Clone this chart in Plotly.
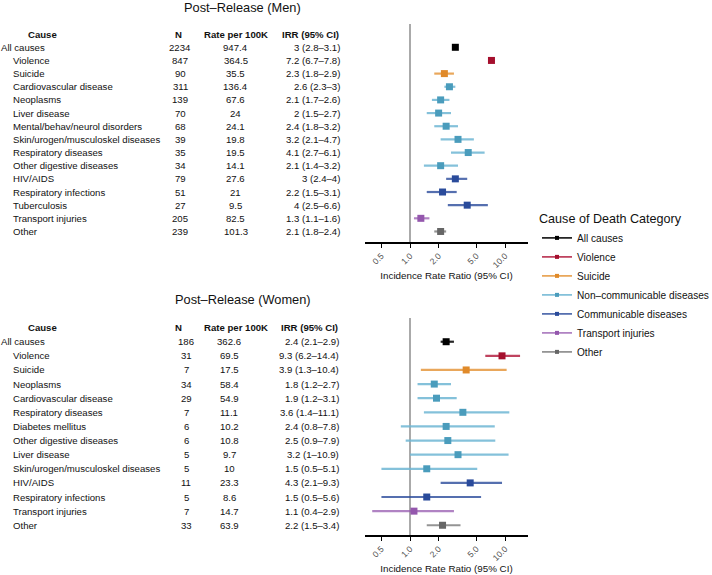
import plotly.graph_objects as go

# ---------------- data ----------------
men_causes = ["All causes", "Violence", "Suicide", "Cardiovascular disease", "Neoplasms",
              "Liver disease", "Mental/behav/neurol disorders", "Skin/urogen/musculoskel diseases",
              "Respiratory diseases", "Other digestive diseases", "HIV/AIDS",
              "Respiratory infections", "Tuberculosis", "Transport injuries", "Other"]
men_n = [2234, 847, 90, 311, 139, 70, 68, 39, 35, 34, 79, 51, 27, 205, 239]
men_rate = [947.4, 364.5, 35.5, 136.4, 67.6, 24, 24.1, 19.8, 19.5, 14.1, 27.6, 21, 9.5, 82.5, 101.3]
men_irr = [3, 7.2, 2.3, 2.6, 2.1, 2, 2.4, 3.2, 4.1, 2.1, 3, 2.2, 4, 1.3, 2.1]
men_lo = [2.8, 6.7, 1.8, 2.3, 1.7, 1.5, 1.8, 2.1, 2.7, 1.4, 2.4, 1.5, 2.5, 1.1, 1.8]
men_hi = [3.1, 7.8, 2.9, 3, 2.6, 2.7, 3.2, 4.7, 6.1, 3.2, 4, 3.1, 6.6, 1.6, 2.4]
men_cat = ["All causes", "Violence", "Suicide", "Non–communicable diseases", "Non–communicable diseases",
           "Non–communicable diseases", "Non–communicable diseases", "Non–communicable diseases",
           "Non–communicable diseases", "Non–communicable diseases", "Communicable diseases",
           "Communicable diseases", "Communicable diseases", "Transport injuries", "Other"]

women_causes = ["All causes", "Violence", "Suicide", "Neoplasms", "Cardiovascular disease",
                "Respiratory diseases", "Diabetes mellitus", "Other digestive diseases",
                "Liver disease", "Skin/urogen/musculoskel diseases", "HIV/AIDS",
                "Respiratory infections", "Transport injuries", "Other"]
women_n = [186, 31, 7, 34, 29, 7, 6, 6, 5, 5, 11, 5, 7, 33]
women_rate = [362.6, 69.5, 17.5, 58.4, 54.9, 11.1, 10.2, 10.8, 9.7, 10, 23.3, 8.6, 14.7, 63.9]
women_irr = [2.4, 9.3, 3.9, 1.8, 1.9, 3.6, 2.4, 2.5, 3.2, 1.5, 4.3, 1.5, 1.1, 2.2]
women_lo = [2.1, 6.2, 1.3, 1.2, 1.2, 1.4, 0.8, 0.9, 1, 0.5, 2.1, 0.5, 0.4, 1.5]
women_hi = [2.9, 14.4, 10.4, 2.7, 3.1, 11.1, 7.8, 7.9, 10.9, 5.1, 9.3, 5.6, 2.9, 3.4]
women_cat = ["All causes", "Violence", "Suicide", "Non–communicable diseases", "Non–communicable diseases",
             "Non–communicable diseases", "Non–communicable diseases", "Non–communicable diseases",
             "Non–communicable diseases", "Non–communicable diseases", "Communicable diseases",
             "Communicable diseases", "Transport injuries", "Other"]

categories = ["All causes", "Violence", "Suicide", "Non–communicable diseases",
              "Communicable diseases", "Transport injuries", "Other"]
tick_vals = [0.5, 1, 2, 5, 10]
tick_text = ["0.5", "1.0", "2.0", "5.0", "10.0"]
ref_line = 1

# ---------------- styles ----------------
marker_col = {
    "All causes": "#000000",
    "Violence": "#A50F2D",
    "Suicide": "#E08A2A",
    "Non–communicable diseases": "#4A9CBC",
    "Communicable diseases": "#2A4B9B",
    "Transport injuries": "#9457AD",
    "Other": "#666666",
}
line_col = {
    "All causes": "rgba(0,0,0,0.85)",
    "Violence": "rgba(175,20,55,0.8)",
    "Suicide": "rgba(228,145,50,0.8)",
    "Non–communicable diseases": "rgba(110,182,212,0.85)",
    "Communicable diseases": "rgba(42,75,155,0.8)",
    "Transport injuries": "rgba(150,90,175,0.75)",
    "Other": "rgba(102,102,102,0.7)",
}
FONT = "Liberation Sans, Arial, Helvetica, sans-serif"
W, H = 712, 575

fig = go.Figure()


def fmt(v):
    return f"{v:g}"


def add_panel(irr, lo, hi, cats, xa, ya):
    for c in categories:
        idx = [i for i, k in enumerate(cats) if k == c]
        if not idx:
            continue
        fig.add_trace(go.Scatter(
            x=[irr[i] for i in idx], y=[i for i in idx],
            mode="markers", xaxis=xa, yaxis=ya, showlegend=False,
            marker=dict(symbol="square", size=7, color=marker_col[c]),
            error_x=dict(type="data", symmetric=False,
                         array=[hi[i] - irr[i] for i in idx],
                         arrayminus=[irr[i] - lo[i] for i in idx],
                         width=0, thickness=2.2, color=line_col[c]),
            hoverinfo="skip",
        ))


add_panel(men_irr, men_lo, men_hi, men_cat, "x", "y")
add_panel(women_irr, women_lo, women_hi, women_cat, "x2", "y2")

# legend entries
for c in categories:
    fig.add_trace(go.Scatter(
        x=[None], y=[None], mode="lines+markers", name=c,
        marker=dict(symbol="square", size=4, color=marker_col[c]),
        line=dict(color=line_col[c], width=1.8),
    ))

# ---------------- table text ----------------
ann = []


def px(x):
    return x / W


def py(y):
    return (H - y) / H


def table(title, title_y, causes, ns, rates, irr, lo, hi, yref, n_x, n_hx, r_x, r_hx, irr_x):
    tf = dict(family=FONT, size=9.6, color="#111111")
    ann.append(dict(text=title, x=px(243), xanchor="center", y=py(title_y), yanchor="middle",
                    yref="paper", xref="paper",
                    showarrow=False, font=dict(family=FONT, size=12.8, color="#111111")))
    hdr = -1
    ann.append(dict(text="<b>Cause</b>", x=px(42), xanchor="center", y=hdr, yref=yref, xref="paper",
                    showarrow=False, font=tf))
    ann.append(dict(text="<b>N</b>", x=px(n_hx), xanchor="center", y=hdr, yref=yref, xref="paper",
                    showarrow=False, font=tf))
    ann.append(dict(text="<b>Rate per 100K</b>", x=px(r_hx), xanchor="center", y=hdr, yref=yref,
                    xref="paper", showarrow=False, font=tf))
    ann.append(dict(text="<b>IRR (95% CI)</b>", x=px(irr_x), xanchor="right", y=hdr, yref=yref,
                    xref="paper", showarrow=False, font=tf))
    for i, c in enumerate(causes):
        ann.append(dict(text=c, x=px(-1 if i == 0 else 11), xanchor="left", y=i, yref=yref,
                        xref="paper", showarrow=False, font=tf))
        ann.append(dict(text=str(ns[i]), x=px(n_x), xanchor="center", y=i, yref=yref,
                        xref="paper", showarrow=False, font=tf))
        ann.append(dict(text=fmt(rates[i]), x=px(r_x), xanchor="center", y=i, yref=yref,
                        xref="paper", showarrow=False, font=tf))
        ann.append(dict(text=f"{fmt(irr[i])} ({fmt(lo[i])}–{fmt(hi[i])})", x=px(irr_x + 1),
                        xanchor="right", y=i, yref=yref, xref="paper", showarrow=False, font=tf))


table("Post–Release (Men)", 8, men_causes, men_n, men_rate, men_irr, men_lo, men_hi, "y",
      180, 179, 236, 236, 341)
table("Post–Release (Women)", 299, women_causes, women_n, women_rate, women_irr, women_lo, women_hi, "y2",
      186, 179, 229, 236, 340)

shapes = [
    dict(type="line", x0=ref_line, x1=ref_line, xref="x", y0=0, y1=1, yref="y domain",
         line=dict(color="#AAAAAA", width=2), layer="below"),
    dict(type="line", x0=ref_line, x1=ref_line, xref="x2", y0=0, y1=1, yref="y2 domain",
         line=dict(color="#AAAAAA", width=2), layer="below"),
]

xaxis_common = dict(
    type="log", range=[-0.474, 1.242], domain=[365 / W, 528 / W],
    showgrid=False, zeroline=False, showline=True, linecolor="#000000", linewidth=1.6,
    ticks="outside", ticklen=4, tickwidth=1.4, tickcolor="#000000",
    tickvals=tick_vals, ticktext=tick_text, tickangle=-45,
    tickfont=dict(family=FONT, size=8.5, color="#4D4D4D"),
    title=dict(text="Incidence Rate Ratio (95% CI)", font=dict(family=FONT, size=9.8, color="#111111"),
               standoff=2),
    fixedrange=True, automargin=False,
)
yaxis_common = dict(visible=False, showgrid=False, zeroline=False, fixedrange=True)

fig.update_layout(
    width=W, height=H,
    margin=dict(l=0, r=0, t=0, b=0, autoexpand=False),
    paper_bgcolor="white", plot_bgcolor="white",
    font=dict(family=FONT, color="#111111"),
    xaxis=dict(anchor="y", **xaxis_common),
    xaxis2=dict(anchor="y2", **xaxis_common),
    yaxis=dict(domain=[(H - 242) / H, (H - 24) / H], range=[14.8, -1.77], **yaxis_common),
    yaxis2=dict(domain=[(H - 535) / H, (H - 318) / H], range=[13.69, -1.68], **yaxis_common),
    annotations=ann,
    shapes=shapes,
    showlegend=True,
    legend=dict(
        title=dict(text="Cause of Death Category", font=dict(family=FONT, size=12.6, color="#111111")),
        font=dict(family=FONT, size=10.1, color="#111111"),
        x=537 / W, xanchor="left", y=(H - 207) / H, yanchor="top",
        bgcolor="rgba(0,0,0,0)", itemwidth=30,
    ),
)

fig.write_html("out.html", config={"displayModeBar": False},
               post_script="document.body.style.margin='0';document.body.style.overflow='hidden';")
